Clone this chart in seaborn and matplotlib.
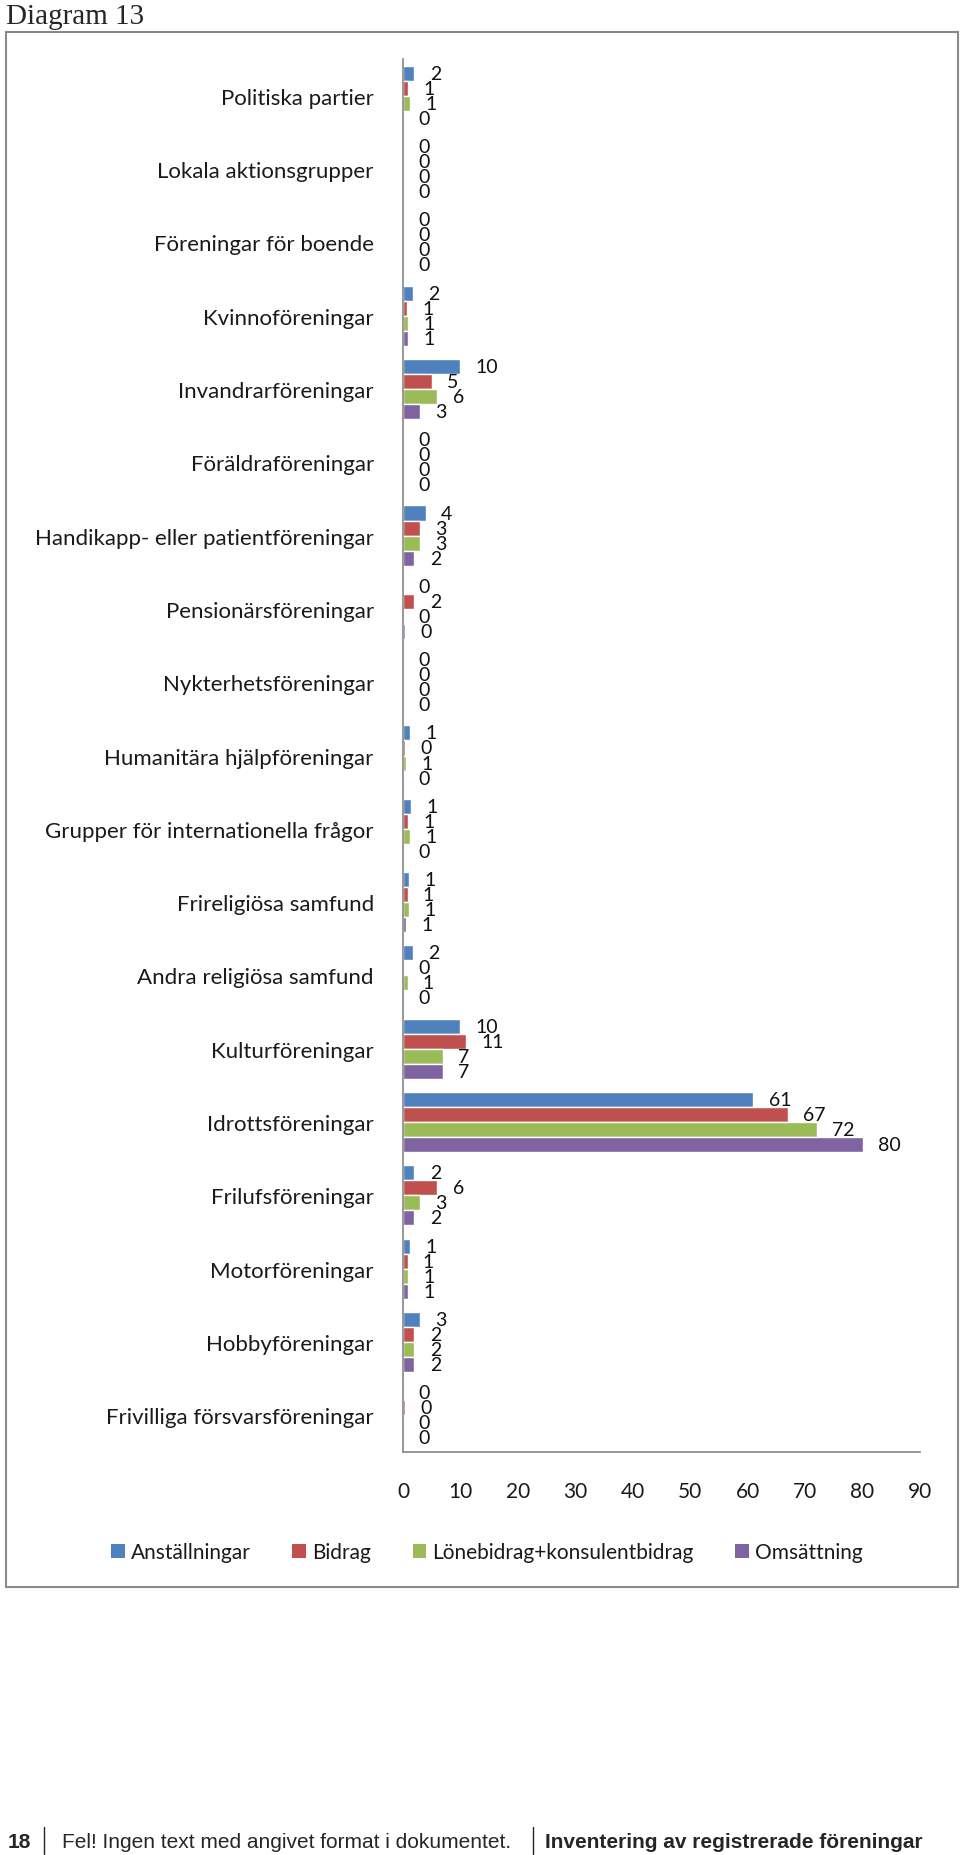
import pandas as pd
import matplotlib.pyplot as plt
import seaborn as sns
from matplotlib.patches import Patch, Rectangle
from matplotlib.lines import Line2D

categories = [
    "Politiska partier", "Lokala aktionsgrupper", "Föreningar för boende",
    "Kvinnoföreningar", "Invandrarföreningar", "Föräldraföreningar",
    "Handikapp- eller patientföreningar", "Pensionärsföreningar",
    "Nykterhetsföreningar", "Humanitära hjälpföreningar",
    "Grupper för internationella frågor", "Frireligiösa samfund",
    "Andra religiösa samfund", "Kulturföreningar", "Idrottsföreningar",
    "Frilufsföreningar", "Motorföreningar", "Hobbyföreningar",
    "Frivilliga försvarsföreningar",
]
series = ["Anställningar", "Bidrag", "Lönebidrag+konsulentbidrag", "Omsättning"]

anstallningar = [2, 0, 0, 1.8, 10, 0, 4, 0, 0, 1.3, 1.4, 1.1, 1.8, 10, 61, 2, 1.3, 3, 0]
bidrag = [0.9, 0, 0, 0.7, 5, 0, 3, 2, 0, 0.4, 0.9, 0.8, 0, 11, 67, 6, 0.8, 2, 0.4]
lonebidrag = [1.3, 0, 0, 0.9, 6, 0, 3, 0, 0, 0.6, 1.2, 1.1, 0.8, 7, 72, 3, 0.9, 2, 0]
omsattning = [0, 0, 0, 0.9, 3, 0, 2, 0.4, 0, 0, 0, 0.6, 0, 7, 80, 2, 0.9, 2, 0]

colors = ["#4F81BD", "#C0504D", "#9BBB59", "#8064A2"]
xticks = list(range(0, 100, 10))

rows = []
for name, vals in zip(series, [anstallningar, bidrag, lonebidrag, omsattning]):
    for cat, v in zip(categories, vals):
        rows.append({"kategori": cat, "serie": name, "varde": v})
df = pd.DataFrame(rows)

sns.set_style("white")
plt.rcParams["font.family"] = ["Lato", "DejaVu Sans"]

fig = plt.figure(figsize=(9.6, 18.56), dpi=100)
ax = fig.add_axes([403 / 960, 1 - 1453 / 1856, 517 / 960, 1393 / 1856])
ax.set_facecolor("none")

sns.barplot(
    data=df, y="kategori", x="varde", hue="serie", orient="h",
    order=categories, hue_order=series, palette=colors, saturation=1,
    width=0.82, errorbar=None, legend=False, ax=ax,
)

for cont in ax.containers:
    ax.bar_label(cont, fmt="%.0f", padding=11, fontsize=14, color="#111111")

ax.set_xlim(0, 90)
ax.set_xticks(xticks)
ax.set_xlabel("")
ax.set_ylabel("")
ax.tick_params(axis="y", length=0, pad=21, labelsize=16, colors="#1a1a1a")
ax.tick_params(axis="x", length=0, pad=21, labelsize=15, colors="#1a1a1a")
for s in ["top", "right"]:
    ax.spines[s].set_visible(False)
for s in ["left", "bottom"]:
    ax.spines[s].set_color("#868686")
    ax.spines[s].set_linewidth(1.2)

handles = [Patch(facecolor=c, edgecolor="none") for c in colors]
fig.legend(
    handles, series, loc="center", bbox_to_anchor=(487 / 960, 1 - 1553 / 1856),
    ncol=4, frameon=False, fontsize=15, handlelength=0.65, handleheight=0.65,
    handletextpad=0.3, columnspacing=2.0, labelcolor="#1a1a1a",
)

# outer frame
fig.add_artist(Rectangle((6 / 960, 1 - 1588 / 1856), 952 / 960, 1555 / 1856,
                         transform=fig.transFigure, fill=False,
                         edgecolor="#8a8a8a", linewidth=1.5))

fig.text(6 / 960, 1 - 4 / 1856, "Diagram 13", ha="left", va="top",
         fontsize=21, family=["Liberation Serif", "DejaVu Serif"])

# footer
foot_y = 1 - 1843 / 1856
ffam = ["Liberation Sans Narrow", "Liberation Sans", "DejaVu Sans"]
fig.text(8 / 960, foot_y, "18", ha="left", va="center", fontsize=15,
         fontweight="bold", family=ffam)
fig.text(62 / 960, foot_y, "Fel! Ingen text med angivet format i dokumentet.",
         ha="left", va="center", fontsize=15, family=ffam)
fig.text(545 / 960, foot_y, "Inventering av registrerade föreningar",
         ha="left", va="center", fontsize=15, fontweight="bold", family=ffam)
for xp in [44, 533]:
    fig.add_artist(Line2D([xp / 960, xp / 960], [1 - 1828 / 1856, 1 - 1855 / 1856],
                          transform=fig.transFigure, color="#222222", linewidth=1))

fig.savefig("out.png", dpi=100)
